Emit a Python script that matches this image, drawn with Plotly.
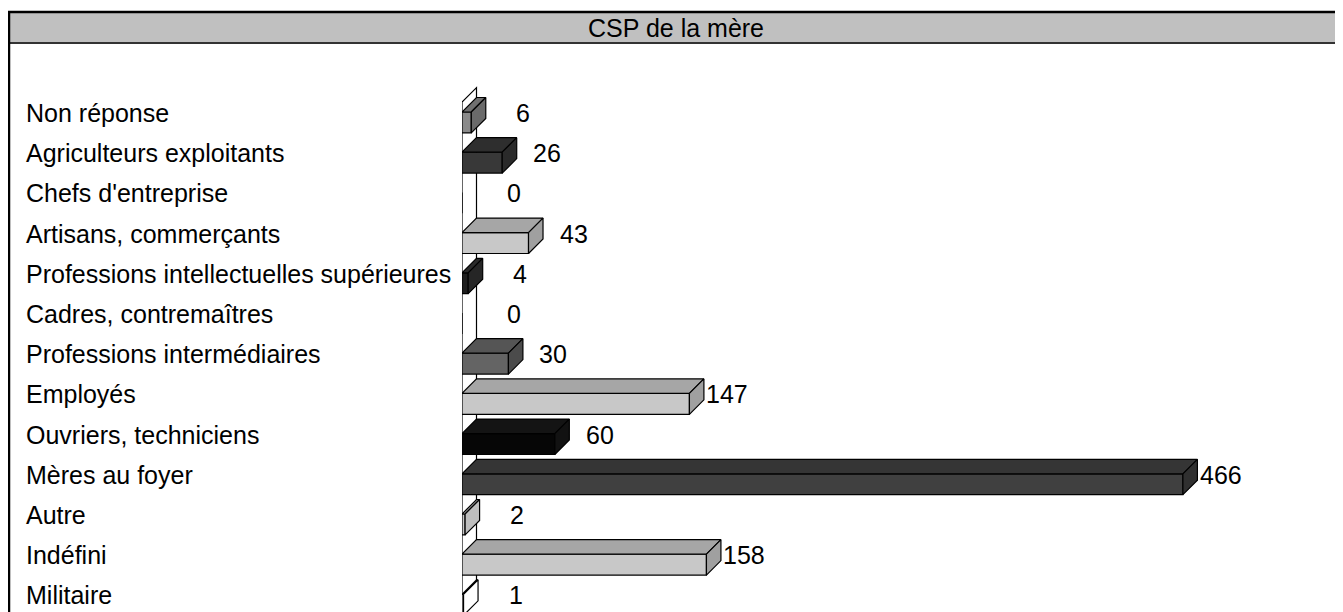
import plotly.graph_objects as go

# data
categories = [
    "Non réponse",
    "Agriculteurs exploitants",
    "Chefs d'entreprise",
    "Artisans, commerçants",
    "Professions intellectuelles supérieures",
    "Cadres, contremaîtres",
    "Professions intermédiaires",
    "Employés",
    "Ouvriers, techniciens",
    "Mères au foyer",
    "Autre",
    "Indéfini",
    "Militaire",
]
values = [6, 26, 0, 43, 4, 0, 30, 147, 60, 466, 2, 158, 1]
title = "CSP de la mère"

# grey shades of the 3D bars: front, top and side faces
front_colors = ["#8A8A8A", "#383838", "#383838", "#C8C8C8", "#1E1E1E", "#646464", "#646464",
                "#C8C8C8", "#060606", "#404040", "#C8C8C8", "#C8C8C8", "#FFFFFF"]
top_colors = ["#707070", "#2E2E2E", "#2E2E2E", "#A6A6A6", "#2A2A2A", "#555555", "#555555",
              "#A6A6A6", "#141414", "#353535", "#A6A6A6", "#A6A6A6", "#FFFFFF"]
side_colors = ["#6A6A6A", "#2A2A2A", "#2A2A2A", "#A0A0A0", "#262626", "#4B4B4B", "#4B4B4B",
               "#A0A0A0", "#121212", "#303030", "#BEBEBE", "#A0A0A0", "#FFFFFF"]

# the page body adds an 8px margin, so the figure is laid out 8px smaller/shifted
OFF = 8
W, H = 1343 - OFF, 612 - OFF
FONT = "Liberation Sans, Arial, sans-serif"
FS = 25
PX_PER_UNIT = 1.547      # x pixels per value unit
ROW = 40.2               # pixels per category
ROW0 = 113 - OFF         # pixel of first category
X0 = 462 - OFF           # pixel of value 0

DX = 14.5 / PX_PER_UNIT  # 3D depth in value units
DY = 14.5 / ROW          # 3D depth in category units
FRONT_TOP = -0.025
FRONT_H = 0.52


def px(x):
    return (x - OFF) / W


def py(y):
    return 1 - (y - OFF) / H


pos = list(range(len(categories)))

fig = go.Figure()

# front faces
fig.add_trace(go.Bar(
    x=values,
    y=[p + FRONT_TOP + FRONT_H / 2 for p in pos],
    orientation="h",
    width=FRONT_H,
    marker=dict(color=front_colors, line=dict(color="#000000", width=1.2)),
    hoverinfo="skip",
))

# top and side faces
for p, v, tc, sc in zip(pos, values, top_colors, side_colors):
    if v == 0:
        continue
    ft = p + FRONT_TOP
    fb = ft + FRONT_H
    fig.add_trace(go.Scatter(
        x=[0, v, v + DX, DX, 0],
        y=[ft, ft, ft - DY, ft - DY, ft],
        mode="lines", fill="toself", fillcolor=tc,
        line=dict(color="#000000", width=1.2), hoverinfo="skip",
    ))
    fig.add_trace(go.Scatter(
        x=[v, v, v + DX, v + DX, v],
        y=[ft, fb, fb - DY, ft - DY, ft],
        mode="lines", fill="toself", fillcolor=sc,
        line=dict(color="#000000", width=1.2), hoverinfo="skip",
    ))

annotations = []
for p, c, v in zip(pos, categories, values):
    annotations.append(dict(
        x=px(24), xref="paper", y=p, yref="y", text=c, showarrow=False,
        xanchor="left", yanchor="middle", font=dict(size=FS, color="#000000", family=FONT),
    ))
    annotations.append(dict(
        x=v, xref="x", y=p, yref="y", text=str(v), showarrow=False,
        xanchor="right", yanchor="middle", xshift=61,
        font=dict(size=FS, color="#000000", family=FONT),
    ))
annotations.append(dict(
    x=px(676), xref="paper", y=py(28), yref="paper", text=title, showarrow=False,
    xanchor="center", yanchor="middle", font=dict(size=FS, color="#000000", family=FONT),
))

wall_top = -0.27
wall_bottom = len(categories) - 1 + 0.46
shapes = [
    # floor / wall of the 3D chart
    dict(type="path", xref="x", yref="y", layer="below",
         path=f"M0,{wall_top} L{DX},{wall_top - DY} L{DX},{wall_bottom - DY} L0,{wall_bottom} Z",
         fillcolor="#FFFFFF", line=dict(color="#000000", width=1.2)),
    # title band
    dict(type="rect", xref="paper", yref="paper", layer="below",
         x0=px(9), x1=1.02, y0=py(43), y1=py(12),
         fillcolor="#C0C0C0", line=dict(width=0)),
    dict(type="line", xref="paper", yref="paper",
         x0=px(9), x1=1.02, y0=py(43), y1=py(43),
         line=dict(color="#333333", width=2)),
    # outer frame
    dict(type="rect", xref="paper", yref="paper",
         x0=px(9), x1=1.02, y0=-0.05, y1=py(12),
         line=dict(color="#000000", width=2.5)),
]

fig.update_layout(
    width=W, height=H,
    paper_bgcolor="#FFFFFF", plot_bgcolor="rgba(0,0,0,0)",
    margin=dict(l=0, r=0, t=0, b=0),
    showlegend=False,
    xaxis=dict(domain=[X0 / W, 1], range=[0, (W - X0) / PX_PER_UNIT],
               visible=False, fixedrange=True),
    yaxis=dict(domain=[0, 1], range=[(H - ROW0) / ROW, -ROW0 / ROW],
               visible=False, fixedrange=True),
    annotations=annotations,
    shapes=shapes,
)

fig.write_html("out.html")
